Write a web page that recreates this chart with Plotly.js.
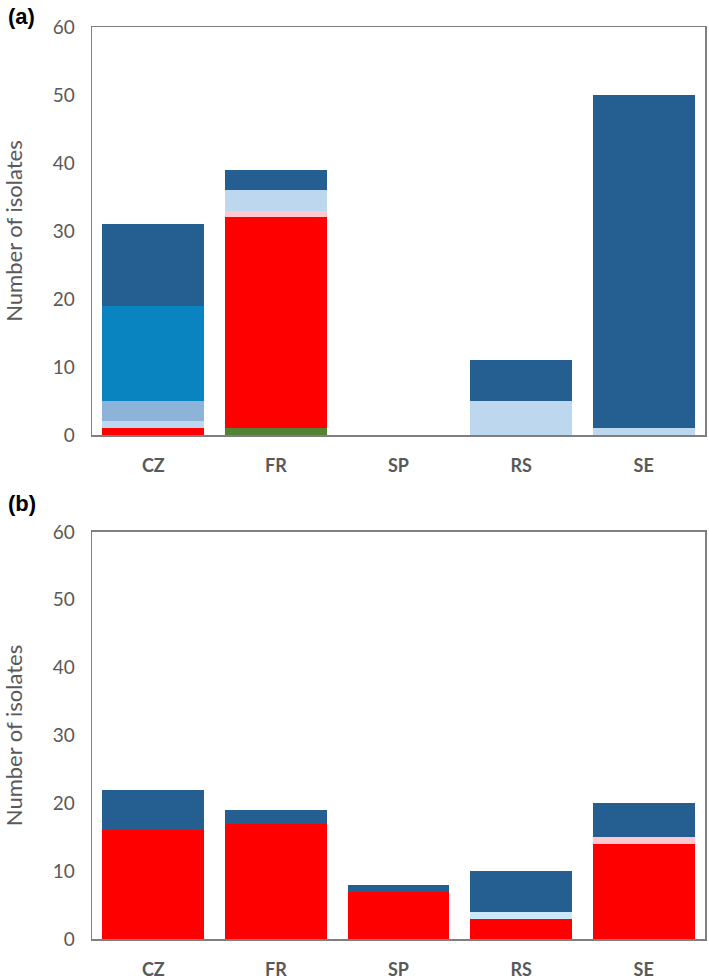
<!DOCTYPE html>
<html>
<head>
<meta charset="utf-8">
<script src="https://cdn.plot.ly/plotly-3.0.1.min.js"></script>
<style>
  html, body { margin: 0; padding: 0; background: #fff; }
  #plot { width: 709px; height: 980px; }
</style>
</head>
<body>
<div id="plot"></div>
<script>
// countries on the x axis (same for both panels)
var countries = ["CZ", "FR", "SP", "RS", "SE"];

// panel (a) - stacked counts, bottom to top
var aGreen  = [0, 1, 0, 0, 0];
var aRed    = [1, 31, 0, 0, 0];
var aPink   = [0, 1, 0, 0, 0];
var aPale   = [1, 3, 0, 5, 1];
var aMedium = [3, 0, 0, 0, 0];
var aBright = [14, 0, 0, 0, 0];
var aDark   = [12, 3, 0, 6, 49];

// panel (b)
var bRed  = [16, 17, 7, 3, 14];
var bPink = [0, 0, 0, 0, 1];
var bPale = [0, 0, 0, 1, 0];
var bDark = [6, 2, 1, 6, 5];

function bar(vals, color, xa, ya) {
  return {
    x: countries,
    y: vals,
    type: "bar",
    xaxis: xa,
    yaxis: ya,
    marker: { color: color, line: { width: 0 } },
    hoverinfo: "x+y"
  };
}

var data = [
  bar(aGreen, "#548235", "x", "y"),
  bar(aRed, "#ff0000", "x", "y"),
  bar(aPink, "#ffc7ce", "x", "y"),
  bar(aPale, "#bdd7ee", "x", "y"),
  bar(aMedium, "#8db3d9", "x", "y"),
  bar(aBright, "#0a83c1", "x", "y"),
  bar(aDark, "#255e91", "x", "y"),
  bar(bRed, "#ff0000", "x2", "y2"),
  bar(bPink, "#ffc7ce", "x2", "y2"),
  bar(bPale, "#cbe8fb", "x2", "y2"),
  bar(bDark, "#255e91", "x2", "y2")
];

var tickFont = { family: "Lato, sans-serif", size: 19, color: "#595959" };
var catFont = { family: "Lato, sans-serif", size: 18, color: "#595959", weight: "bold" };
var titleFont = { family: "Lato, sans-serif", size: 22, color: "#595959" };

function xAxis(anchor) {
  return {
    anchor: anchor,
    domain: [0, 1],
    showline: true, mirror: true, linecolor: "#7f7f7f", linewidth: 1.5,
    ticks: "", ticklabelstandoff: 14,
    tickfont: catFont,
    showgrid: false, zeroline: false, fixedrange: true
  };
}

function yAxis(anchor, domain) {
  return {
    anchor: anchor,
    domain: domain,
    range: [0, 60],
    dtick: 10,
    showline: true, mirror: true, linecolor: "#7f7f7f", linewidth: 1.5,
    ticks: "", ticklabelstandoff: 12,
    tickfont: tickFont,
    showgrid: false, zeroline: false,
    title: { text: "Number of isolates", font: titleFont, standoff: 26 }
  };
}

var layout = {
  width: 709,
  height: 980,
  margin: { l: 92, r: 4, t: 27, b: 41 },
  paper_bgcolor: "#fff",
  plot_bgcolor: "#fff",
  barmode: "stack",
  bargap: 0.17,
  showlegend: false,
  xaxis: xAxis("y"),
  yaxis: yAxis("x", [0.5526, 1]),
  xaxis2: xAxis("y2"),
  yaxis2: yAxis("x2", [0, 0.4463]),
  annotations: [
    { text: "<b>(a)</b>", xref: "paper", yref: "paper", x: -0.14, y: 1.012,
      xanchor: "left", yanchor: "middle", showarrow: false,
      font: { family: "Liberation Sans, Arial, sans-serif", size: 22, color: "#000" } },
    { text: "<b>(b)</b>", xref: "paper", yref: "paper", x: -0.14, y: 0.477,
      xanchor: "left", yanchor: "middle", showarrow: false,
      font: { family: "Liberation Sans, Arial, sans-serif", size: 22, color: "#000" } }
  ]
};

Plotly.newPlot("plot", data, layout, { displayModeBar: false, staticPlot: true });
</script>
</body>
</html>
